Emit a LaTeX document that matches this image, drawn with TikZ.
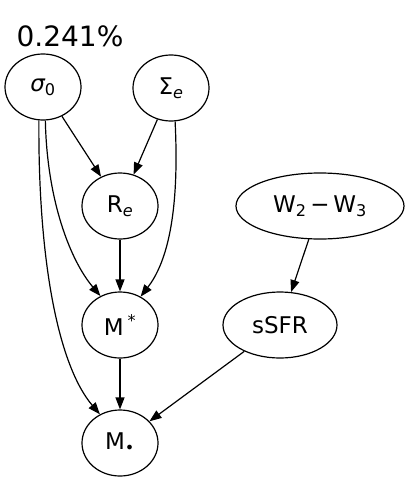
\documentclass[tikz,border=0pt]{standalone}
\usepackage{fontspec}
\setmainfont{DejaVu Sans}
\usetikzlibrary{shapes.geometric,arrows.meta}
\begin{document}
\begin{tikzpicture}[x=1pt,y=-1pt,
  nd/.style={ellipse, draw, line width=1.2pt, minimum width=76pt, minimum height=66pt, inner sep=0pt, font=\fontsize{23}{26}\selectfont},
  ar/.style={line width=1.2pt, -{Triangle[length=12pt,width=9pt]}}]
\useasboundingbox (0,0) rectangle (412,479);
\node[font=\fontsize{28}{32}\selectfont, anchor=base, inner sep=0pt] (lab) at (70,46) {0.241\%};
\node[nd] (s0) at (43,87) {{\itshape σ}\textsubscript{0}};
\node[nd] (Se) at (171,88) {Σ\textsubscript{\itshape e}};
\node[nd] (Re) at (120,206) {R\textsubscript{\itshape e}};
\node[nd, minimum width=168pt] (W) at (320,206) {W\textsubscript{2}\,−\,W\textsubscript{3}};
\node[nd] (Ms) at (120,325) {M\,\textsuperscript{*}};
\node[nd, minimum width=114pt] (sSFR) at (280,325) {sSFR};
\node[nd] (Md) at (120,443) {M\textsubscript{•}};
\draw[ar] (s0) -- (Re);
\draw[ar] (Se) -- (Re);
\draw[ar] (Re) -- (Ms);
\draw[ar] (Ms) -- (Md);
\draw[ar] (W) -- (sSFR);
\draw[ar] (sSFR) -- (Md);
\draw[ar] (s0.-97) .. controls (38,260) and (58,365) .. (Md.125);
\draw[ar] (s0.-86) .. controls (47,200) and (70,260) .. (Ms.124);
\draw[ar] (Se.-83) .. controls (180,220) and (165,265) .. (Ms.54);
\end{tikzpicture}
\end{document}
